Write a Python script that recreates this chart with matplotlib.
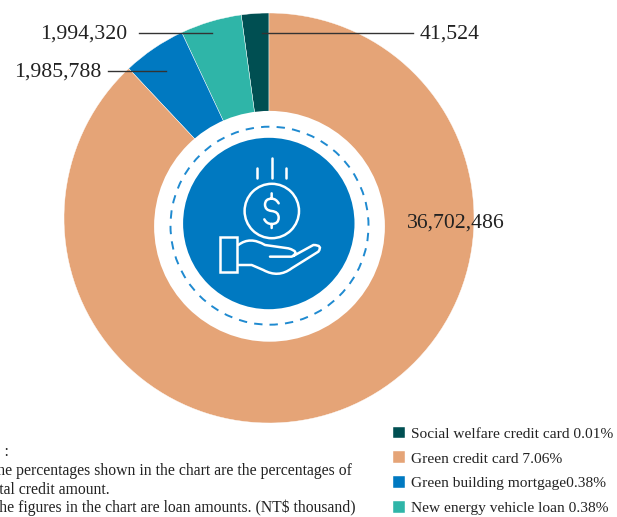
import matplotlib
matplotlib.use("Agg")
import matplotlib.pyplot as plt
from matplotlib.patches import Circle, PathPatch, Rectangle
from matplotlib.path import Path

plt.rcParams['font.family'] = ['Liberation Serif', 'DejaVu Serif']

# the ring is not drawn to scale in the original, so the shares are read off the picture (degrees)
categories = ["Social welfare credit card", "New energy vehicle loan", "Green building mortgage", "Green credit card"]
drawn_shares = [7.8, 17.4, 18.0, 316.8]
amounts = ["41,524", "1,994,320", "1,985,788", "36,702,486"]
percent_labels = ["0.01%", "0.38%", "0.38%", "7.06%"]
colors = ["#004F52", "#2FB5A8", "#0079C1", "#E5A477"]

legend_order = [0, 3, 2, 1]
legend_seps = [" ", " ", "", " "]
notes = ["Note :",
         "1. The percentages shown in the chart are the percentages of",
         "total credit amount.",
         "2. The figures in the chart are loan amounts. (NT$ thousand)"]

W, H = 617, 517
fig = plt.figure(figsize=(W / 100, H / 100), dpi=100)
ax = fig.add_axes([0, 0, 1, 1])


def Y(py):
    # pixel rows from the top of the image -> axis y
    return H - py


wedges, _ = ax.pie(drawn_shares, colors=colors, startangle=90, counterclock=True,
                   center=(269, Y(218)), radius=205, frame=True,
                   wedgeprops=dict(width=110, edgecolor="white", linewidth=0.3))
ax.set_xlim(0, W)
ax.set_ylim(0, H)
ax.set_aspect("equal")
ax.axis("off")

# centre badge
ax.add_patch(Circle((269.5, Y(226.3)), 115.4, fc="white", ec="none", zorder=3))
ax.add_patch(Circle((269.5, Y(225.7)), 99, fc="none", ec="#1F8AD0", lw=1.4, ls=(0, (4.3, 3.7)), zorder=4))
ax.add_patch(Circle((268.8, Y(223.5)), 85.7, fc="#0079C1", ec="none", zorder=4))

# money-in-hand icon
ICON_LW = 1.8
icon = dict(color="white", lw=ICON_LW, solid_capstyle="round", zorder=5)
for x, y0, y1 in [(257.3, 167.5, 178), (272, 158, 178), (286, 167.5, 178)]:
    ax.plot([x, x], [Y(y0), Y(y1)], **icon)
ax.add_patch(Circle((271.8, Y(211)), 27.2, fc="none", ec="white", lw=ICON_LW, zorder=5))
ax.add_patch(Rectangle((220.3, Y(272)), 16.7, 35.3, fc="none", ec="white", lw=ICON_LW, zorder=5))


def icon_point(zx, zy):
    return (210 + zx / 3, Y(150 + zy / 3))


C3, M, L = Path.CURVE3, Path.MOVETO, Path.LINETO
hand_verts = [(85, 285), (120, 258), (165, 285),
              (235, 295), (272, 305), (245, 320), (180, 320),
              (250, 318), (310, 285), (340, 285), (325, 305),
              (245, 355), (205, 385), (160, 360), (125, 345), (85, 345)]
hand_codes = [M, C3, C3, L, C3, C3, L, M, L, C3, C3, L, C3, C3, L, L]
dollar_verts = [(206, 160), (198, 146), (185, 146), (165, 146), (165, 164), (165, 181), (185, 183),
                (206, 185), (206, 203), (206, 222), (185, 222), (170, 222), (163, 208),
                (185, 130), (185, 146), (185, 222), (185, 234)]
dollar_codes = [M, C3, C3, C3, C3, C3, C3, C3, C3, C3, C3, C3, C3, M, L, M, L]
for verts, codes in [(hand_verts, hand_codes), (dollar_verts, dollar_codes)]:
    ax.add_patch(PathPatch(Path([icon_point(*p) for p in verts], codes), fc="none", ec="white",
                           lw=ICON_LW, capstyle="round", joinstyle="round", zorder=5))

# leaders and amount labels
ax.plot([262, 413], [Y(33), Y(33)], color="#333333", lw=1.0, zorder=6)
ax.plot([139, 212], [Y(33), Y(33)], color="#333333", lw=1.0, zorder=6)
ax.plot([108, 166], [Y(70.5), Y(70.5)], color="#333333", lw=1.0, zorder=6)
ax.text(420, Y(34), amounts[0], fontsize=15.7, color="#222222", ha="left", va="center", zorder=6)
ax.text(127, Y(34), amounts[1], fontsize=15.7, color="#222222", ha="right", va="center", zorder=6)
ax.text(101, Y(72), amounts[2], fontsize=15.7, color="#222222", ha="right", va="center", zorder=6)
ax.text(407, Y(223), amounts[3], fontsize=15.7, color="#222222", ha="left", va="center", zorder=6)

# legend
handles = [wedges[i] for i in legend_order]
labels = [categories[i] + legend_seps[n] + percent_labels[i] for n, i in enumerate(legend_order)]
ax.legend(handles, labels, loc="upper left", bbox_to_anchor=(391.5 / W, Y(425) / H), frameon=False,
          fontsize=11.1, labelcolor="#222222", handlelength=0.8, handleheight=0.8, handletextpad=0.35,
          labelspacing=0.685, borderpad=0.1, borderaxespad=0)

# note, cut off by the left edge in the original
ax.text(9, Y(452), notes[0], fontsize=11.3, color="#222222", ha="right", va="center")
ax.text(352, Y(471), notes[1], fontsize=11.3, color="#222222", ha="right", va="center")
ax.text(110, Y(490), notes[2], fontsize=11.3, color="#222222", ha="right", va="center")
ax.text(356, Y(508), notes[3], fontsize=11.3, color="#222222", ha="right", va="center")

fig.savefig("out.png", dpi=100)
